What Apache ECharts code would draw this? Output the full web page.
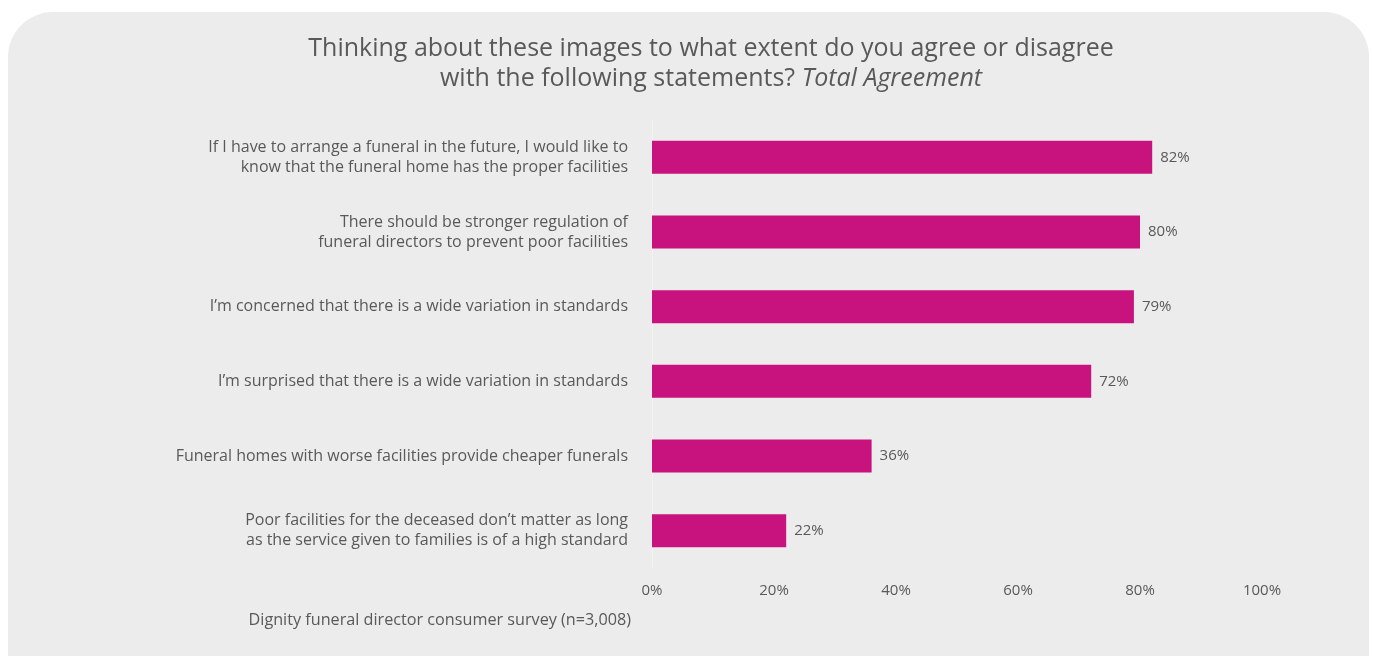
<!DOCTYPE html>
<html>
<head>
<meta charset="utf-8">
<style>
  html, body { margin: 0; padding: 0; background: #ffffff; }
  #chart { width: 1373px; height: 656px; }
</style>
<script src="https://cdn.jsdelivr.net/npm/echarts@6/dist/echarts.min.js"></script>
</head>
<body>
<div id="chart"></div>
<script>
// Survey statements (top to bottom) and share in total agreement (%)
const statements = [
  'If I have to arrange a funeral in the future, I would like to\nknow that the funeral home has the proper facilities',
  'There should be stronger regulation of\nfuneral directors to prevent poor facilities',
  'I\u2019m concerned that there is a wide variation in standards',
  'I\u2019m surprised that there is a wide variation in standards',
  'Funeral homes with worse facilities provide cheaper funerals',
  'Poor facilities for the deceased don\u2019t matter as long\nas the service given to families is of a high standard'
];
const agreement = [82, 80, 79, 72, 36, 22];
const axisTicks = [0, 20, 40, 60, 80, 100];

const textColor = '#595959';
const fontFamily = '"Open Sans", "Noto Sans", sans-serif';

const chart = echarts.init(document.getElementById('chart'), null, { renderer: 'canvas' });

chart.setOption({
  backgroundColor: '#ffffff',
  animation: false,
  textStyle: { fontFamily: fontFamily },
  graphic: [
    {
      type: 'rect',
      z: -10,
      silent: true,
      shape: { x: 8, y: 12, width: 1361, height: 700, r: 45 },
      style: { fill: '#ECECEC' }
    },
    {
      type: 'text',
      silent: true,
      x: 631,
      y: 620,
      style: {
        text: 'Dignity funeral director consumer survey (n=3,008)',
        align: 'right',
        verticalAlign: 'middle',
        fill: textColor,
        font: '16.2px ' + fontFamily
      }
    }
  ],
  title: {
    text: '{n|Thinking about these images to what extent do you agree or disagree}\n{n|with the following statements? }{i|Total Agreement}',
    left: 706,
    top: 29,
    textAlign: 'center',
    textStyle: {
      fontWeight: 'normal',
      rich: {
        n: { fontSize: 25, fontWeight: 'normal', color: textColor, fontFamily: fontFamily, lineHeight: 30 },
        i: { fontSize: 25, fontWeight: 'normal', color: textColor, fontFamily: fontFamily, fontStyle: 'italic', lineHeight: 30 }
      }
    }
  },
  grid: { left: 652, right: 111, top: 120, bottom: 88, containLabel: false },
  xAxis: {
    type: 'value',
    min: axisTicks[0],
    max: axisTicks[axisTicks.length - 1],
    interval: axisTicks[1] - axisTicks[0],
    axisLine: { show: false },
    axisTick: { show: false },
    splitLine: { show: false },
    axisLabel: {
      formatter: '{value}%',
      color: textColor,
      fontSize: 15,
      margin: 15,
      fontFamily: fontFamily
    }
  },
  yAxis: {
    type: 'category',
    inverse: true,
    data: statements,
    axisLine: { show: true, lineStyle: { color: '#F3F3F3', width: 1 } },
    axisTick: { show: false },
    axisLabel: {
      color: textColor,
      fontSize: 16,
      lineHeight: 20,
      margin: 24,
      align: 'right',
      fontFamily: fontFamily
    }
  },
  series: [
    {
      type: 'bar',
      data: agreement,
      barWidth: 33,
      itemStyle: { color: '#C8127E' },
      label: {
        show: true,
        position: 'right',
        distance: 8,
        formatter: '{c}%',
        color: textColor,
        fontSize: 15,
        fontFamily: fontFamily
      }
    }
  ]
});
</script>
</body>
</html>
